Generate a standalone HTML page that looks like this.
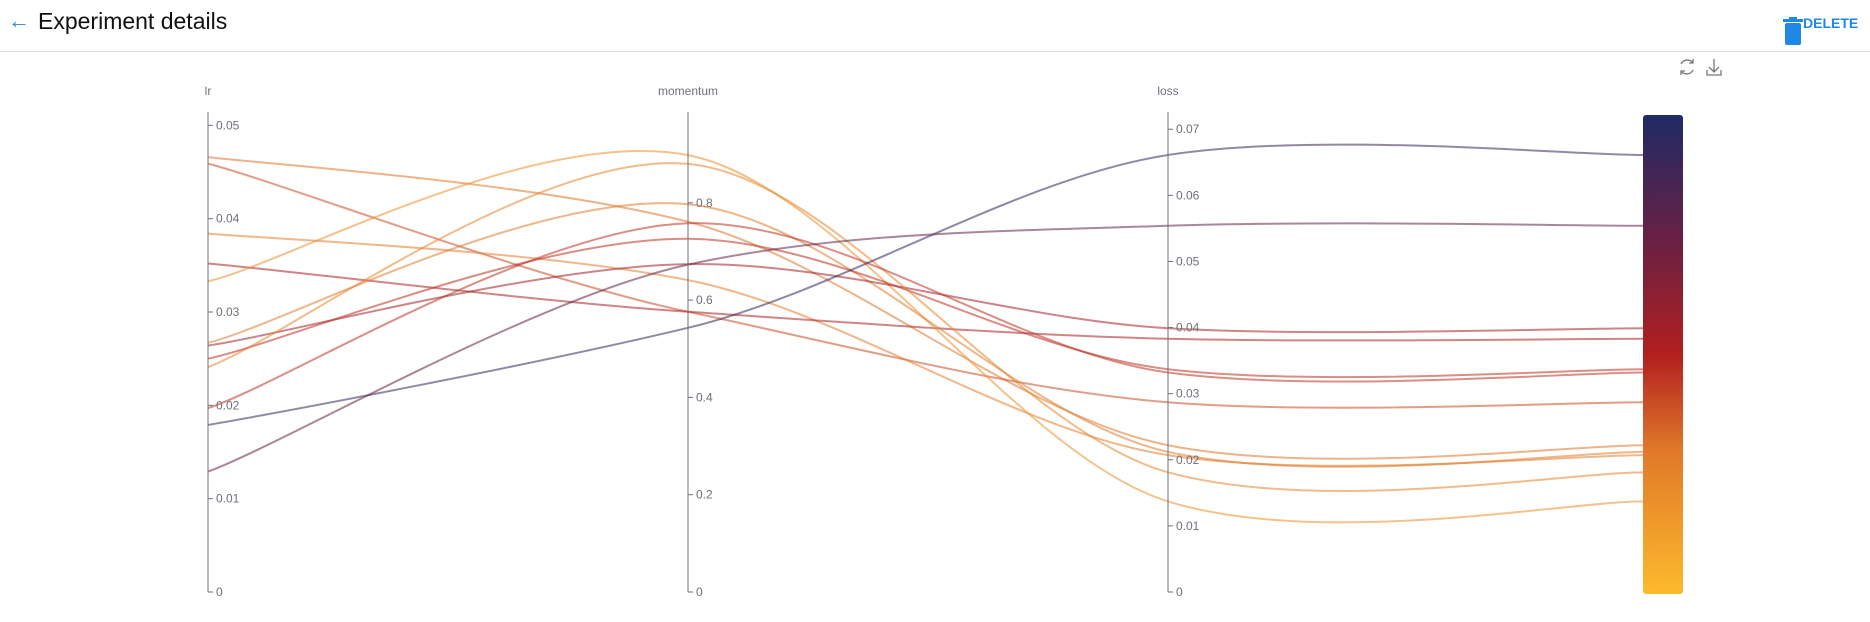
<!DOCTYPE html>
<html><head><meta charset="utf-8">
<style>
body{margin:0;width:1870px;height:622px;background:#fff;font-family:"Liberation Sans",sans-serif;overflow:hidden;position:relative}
.hdr{position:absolute;left:0;top:0;width:1870px;height:51px;border-bottom:1px solid #ddd}
.title{position:absolute;left:38px;top:8px;font-size:23px;color:#111}
.back{position:absolute;left:8px;top:8px;font-size:22px;color:#1e88e5}
.del{position:absolute;left:1803px;top:15px;font-size:14px;font-weight:bold;color:#1e88e5}
</style></head><body>
<div class="hdr">
<span class="back">←</span>
<span class="title">Experiment details</span>
<svg style="position:absolute;left:1782px;top:17px" width="22" height="30"><rect x="1" y="2" width="20" height="3" fill="#1e88e5"/><rect x="7" y="0" width="8" height="3" fill="#1e88e5"/><rect x="3" y="6" width="16" height="22" rx="2" fill="#1e88e5"/></svg>
<span class="del">DELETE</span>
</div>
<svg id="chart" width="1870" height="622" style="position:absolute;left:0;top:0">
<defs><linearGradient id="cg" x1="0" y1="1" x2="0" y2="0">
<stop offset="0" stop-color="#fdba2c"/><stop offset="0.3" stop-color="#e0782a"/><stop offset="0.5" stop-color="#b21f1f"/><stop offset="0.72" stop-color="#6e2040"/><stop offset="1" stop-color="#1f2a66"/></linearGradient></defs>
<g fill="none" stroke="#777" stroke-width="1.3"><path d="M1681 64 A7 7 0 0 1 1693 63"/><path d="M1693 70 A7 7 0 0 1 1681 71"/><path d="M1693 59 V63 H1689"/><path d="M1681 75 V71 H1685"/></g>
<g stroke="#777" stroke-width="1.3" fill="none"><path d="M1714 59 V72 M1709 67 L1714 72 L1719 67 M1707 70 V75 H1721 V70"/></g>
<rect x="1643" y="115" width="40" height="479" rx="3" fill="url(#cg)"/>
</svg>
<script>
const lrVals=[0.0466,0.0459,0.0384,0.0352,0.0333,0.0267,0.0264,0.0250,0.0241,0.0197,0.0179,0.0129];
const momVals=[0.761,0.576,0.641,0.576,0.898,0.797,0.674,0.726,0.880,0.758,0.543,0.673];
const lossVals=[0.0222,0.0287,0.0207,0.0383,0.0137,0.0212,0.0399,0.0337,0.0181,0.0332,0.0661,0.0554];
const lrTicks=[0,0.01,0.02,0.03,0.04,0.05];
const momTicks=[0,0.2,0.4,0.6,0.8];
const lossTicks=[0,0.01,0.02,0.03,0.04,0.05,0.06,0.07];
const NS="http://www.w3.org/2000/svg";
const svg=document.getElementById('chart');
const Y0=592;
const yLr=v=>Y0-v*9333, yMom=v=>Y0-v*486.5, yLoss=v=>Y0-v*6611;
const axes=[{x:208,name:'lr',f:yLr,t:lrTicks,an:'lr-axis'},{x:688,name:'momentum',f:yMom,t:momTicks,an:'momentum-axis'},{x:1168,name:'loss',f:yLoss,t:lossTicks,an:'loss-axis'}];
const stops=[[0,[253,186,44]],[0.3,[224,120,42]],[0.5,[178,31,31]],[0.72,[110,32,64]],[1,[31,42,102]]];
function color(v){let t=Math.max(0,Math.min(1,v/0.0725));for(let i=1;i<stops.length;i++){if(t<=stops[i][0]){const a=stops[i-1],b=stops[i];const u=(t-a[0])/(b[0]-a[0]);const c=a[1].map((x,k)=>Math.round(x+(b[1][k]-x)*u));return `rgb(${c})`;}}return 'rgb(31,42,102)';}
function mk(tag,attrs){const e=document.createElementNS(NS,tag);for(const k in attrs)e.setAttribute(k,attrs[k]);return e;}
const gl=mk('g',{});svg.insertBefore(gl,svg.firstChild.nextSibling);
for(let i=0;i<lrVals.length;i++){
 const P=[[208,yLr(lrVals[i])],[688,yMom(momVals[i])],[1168,yLoss(lossVals[i])],[1643,yLoss(lossVals[i])]];
 let d=`M${P[0][0]},${P[0][1]}`;const s=0.16;
 for(let j=0;j<3;j++){const p0=P[Math.max(0,j-1)],p1=P[j],p2=P[j+1],p3=P[Math.min(3,j+2)];
  const c1=[p1[0]+(p2[0]-p0[0])*s,p1[1]+(p2[1]-p0[1])*s*0.85],c2=[p2[0]-(p3[0]-p1[0])*s,p2[1]-(p3[1]-p1[1])*s*0.85];
  d+=` C${c1[0]},${c1[1]} ${c2[0]},${c2[1]} ${p2[0]},${p2[1]}`;}
 const p=mk('path',{d:d,fill:'none',stroke:color(lossVals[i]),'stroke-width':2,'stroke-opacity':0.55});
 
 
 gl.appendChild(p);
}
axes.forEach(a=>{
 const g=mk('g',{});
 
 
 g.appendChild(mk('line',{x1:a.x,y1:112,x2:a.x,y2:Y0,stroke:'#6e7079','stroke-width':1}));
 const tn=mk('text',{x:a.x,y:95,'text-anchor':'middle','font-size':12,fill:'#6e7079'});tn.textContent=a.name;
 
 
 g.appendChild(tn);
 a.t.forEach(v=>{const y=a.f(v);g.appendChild(mk('line',{x1:a.x,y1:y,x2:a.x+5,y2:y,stroke:'#6e7079'}));
  const t=mk('text',{x:a.x+8,y:y+4,'font-size':12,fill:'#6e7079'});t.textContent=String(v);
  
  
  g.appendChild(t);});
 svg.appendChild(g);
});
</script>
</body></html>
